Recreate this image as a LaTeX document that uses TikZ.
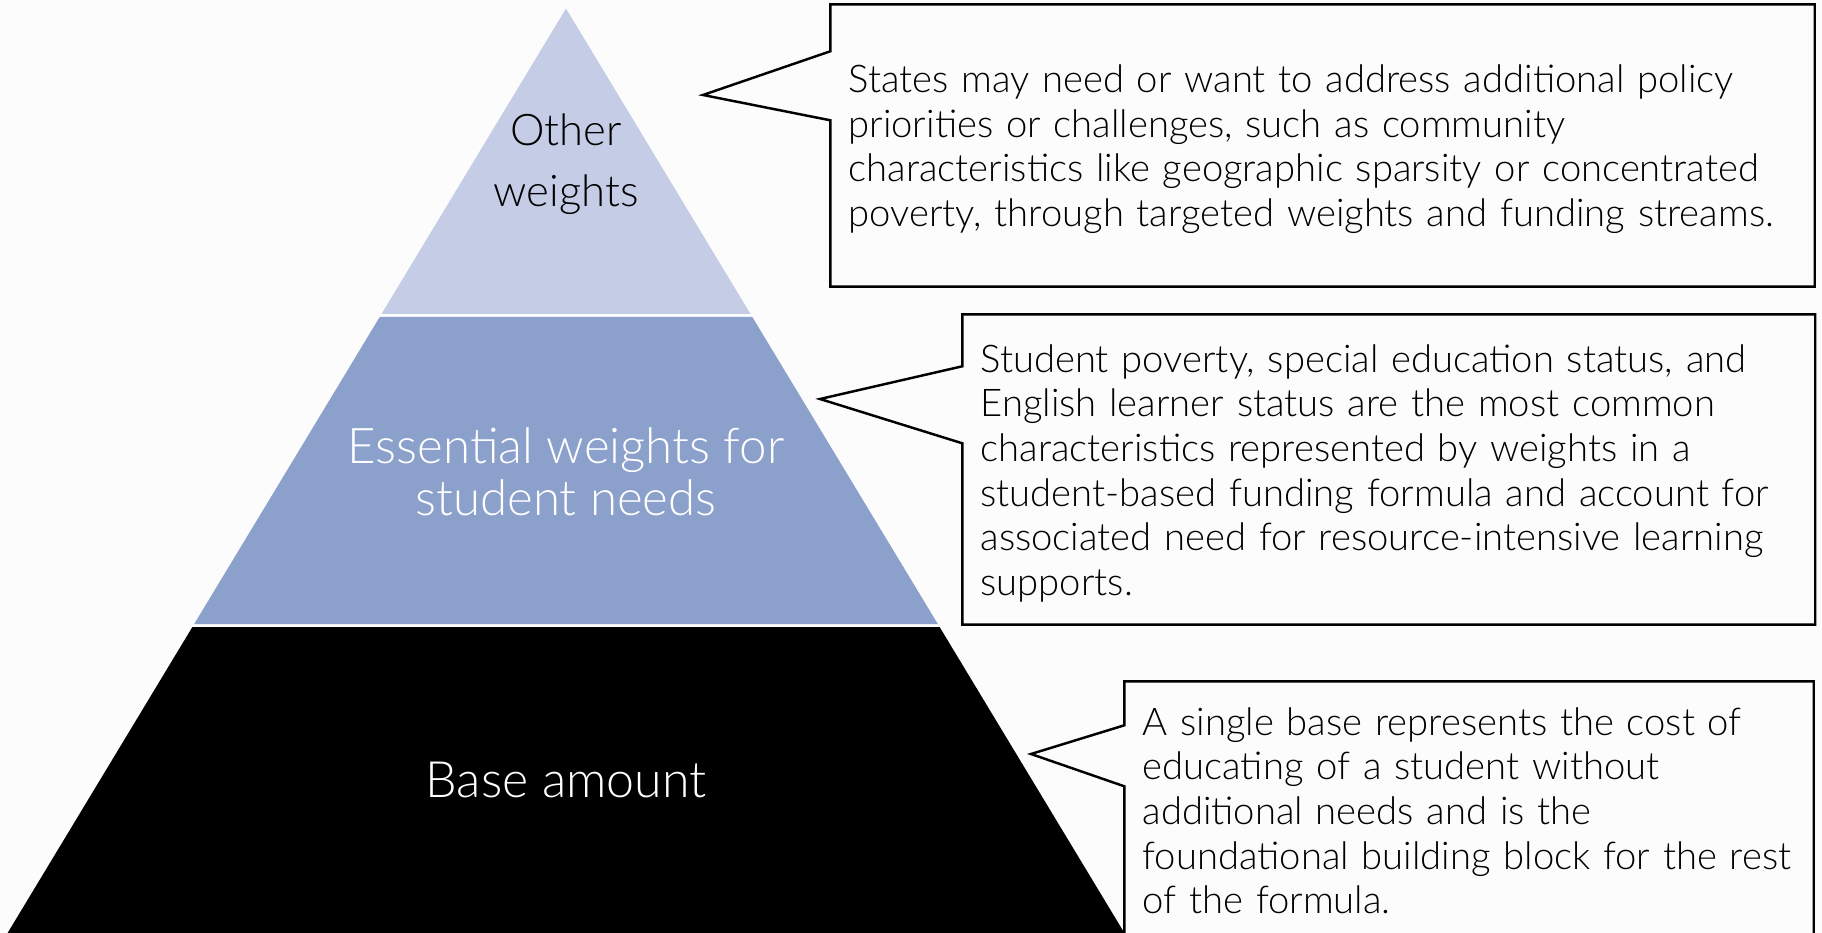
\documentclass[tikz,border=0pt]{standalone}
\usepackage{fontspec}
\setmainfont{Lato}[UprightFont=* Light]
\definecolor{paper}{RGB}{252,252,252}
\definecolor{toptier}{RGB}{197,205,230}
\definecolor{midtier}{RGB}{140,160,204}
\tikzstyle{tierlabel} = [align=center, inner sep=0pt]
\tikzstyle{note} = [align=left, inner xsep=0.175cm, inner ysep=0pt, font=\fontsize{10.87}{12.7}\selectfont, execute at begin node={\rule{0pt}{10pt}}]
\tikzstyle{noteedge} = [draw=black, line width=0.7pt, line join=miter]

\begin{document}
\begin{tikzpicture}[node distance=3.08cm]
\useasboundingbox (0,0) rectangle (18.22,-9.33);
\clip (0,0) rectangle (18.22,-9.33);
\fill[paper] (0,0) rectangle (18.22,-9.33);

\fill[toptier] (5.66,-0.085) -- (7.505,-3.14) -- (3.815,-3.14) -- cycle;
\fill[midtier] (3.797,-3.17) -- (7.523,-3.17) -- (9.378,-6.24) -- (1.942,-6.24) -- cycle;
\fill[black] (1.924,-6.27) -- (9.396,-6.27) -- (11.244,-9.33) -- (0.076,-9.33) -- cycle;

\node (other) [tierlabel, font=\fontsize{12.4}{17.2}\selectfont] at (5.66,-1.64) {Other\\weights};
\node (essential) [tierlabel, below of=other, text=white, font=\fontsize{14}{14.8}\selectfont] {Essential weights for\\student needs};
\node (base) [tierlabel, below of=essential, text=white, font=\fontsize{14.25}{15}\selectfont] {Base amount};

\node (policy) [note, text width=9.48cm, minimum height=2.81cm] at (13.225,-1.455) {States may need or want to address additional policy\\priorities or challenges, such as community\\characteristics like geographic sparsity or concentrated\\poverty, through targeted weights and funding streams.};
\node (needs) [note, text width=8.165cm, minimum height=3.09cm] at (13.8875,-4.695) {Student poverty, special education status, and\\English learner status are the most common\\characteristics represented by weights in a\\student-based funding formula and account for\\associated need for resource-intensive learning\\supports.};
\node (foundation) [note, text width=6.53cm, minimum height=2.5cm] at (14.69,-8.07) {A single base represents the cost of\\educating of a student without\\additional needs and is the\\foundational building block for the rest\\of the formula.};

\coordinate (policytip) at (7.03,-0.95);
\coordinate (needstip) at (8.20,-3.99);
\coordinate (foundationtip) at (10.31,-7.54);

\draw [noteedge] (policy.north west) -- ([yshift=-0.47cm]policy.north west) -- (policytip) -- ([yshift=-1.16cm]policy.north west) -- (policy.south west) -- (policy.south east) -- (policy.north east) -- cycle;
\draw [noteedge] (needs.north west) -- ([yshift=-0.52cm]needs.north west) -- (needstip) -- ([yshift=-1.29cm]needs.north west) -- (needs.south west) -- (needs.south east) -- (needs.north east) -- cycle;
\draw [noteedge] (foundation.north west) -- ([yshift=-0.44cm]foundation.north west) -- (foundationtip) -- ([yshift=-1.05cm]foundation.north west) -- ([yshift=-0.2cm]foundation.south west) -- ([yshift=-0.2cm]foundation.south east) -- (foundation.north east) -- cycle;
\end{tikzpicture}
\end{document}
